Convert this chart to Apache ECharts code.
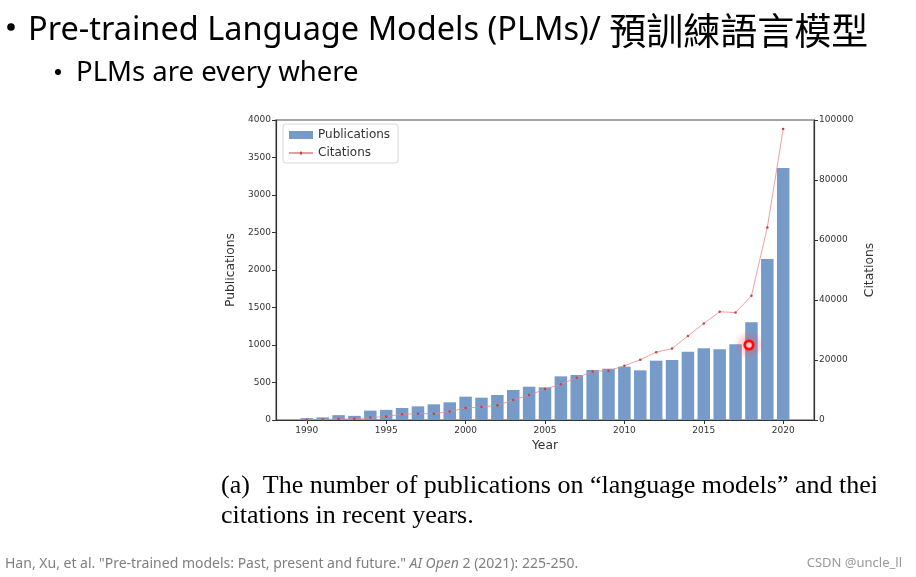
<!DOCTYPE html>
<html>
<head>
<meta charset="utf-8">
<script src="https://cdn.jsdelivr.net/npm/echarts@6/dist/echarts.min.js"></script>
<style>
  html, body { margin: 0; padding: 0; background: #fff; }
  #main { width: 916px; height: 577px; }
</style>
</head>
<body>
<div id="main"></div>
<script>
// data
const years = [1990, 1991, 1992, 1993, 1994, 1995, 1996, 1997, 1998, 1999,
  2000, 2001, 2002, 2003, 2004, 2005, 2006, 2007, 2008, 2009,
  2010, 2011, 2012, 2013, 2014, 2015, 2016, 2017, 2018, 2019, 2020];
const publications = [25, 35, 65, 55, 125, 135, 160, 182, 209, 236,
  311, 298, 333, 400, 444, 436, 582, 600, 667, 684,
  711, 662, 791, 800, 911, 956, 942, 1009, 1302, 2147, 3360];
const citations = [100, 200, 300, 400, 800, 1200, 1900, 2100, 2100, 2800,
  4000, 4300, 4900, 6700, 8300, 10300, 11900, 14100, 16200, 16400,
  18100, 20100, 22600, 23800, 28000, 32200, 36100, 35800, 41400, 64200, 97000];
const yearTicks = [1990, 1995, 2000, 2005, 2010, 2015, 2020];

const chart = echarts.init(document.getElementById('main'));

// plain numbers, no thousands separator (matplotlib style)
const axisFont = {
  fontFamily: 'DejaVu Sans', fontSize: 9, color: '#333',
  formatter: v => String(v)
};
const nameFont = { fontFamily: 'DejaVu Sans', fontSize: 12.3, color: '#333' };

const option = {
  backgroundColor: '#fff',
  animation: false,
  grid: {
    left: 276, top: 120, width: 538, height: 300,
    show: true, borderColor: '#888', borderWidth: 1.5
  },
  legend: {
    orient: 'vertical',
    left: 283, top: 124,
    padding: [5, 8, 4, 6],
    itemGap: 6,
    itemWidth: 24, itemHeight: 8,
    borderColor: '#d8d8d8', borderWidth: 1, borderRadius: 3,
    backgroundColor: '#fff',
    textStyle: { fontFamily: 'DejaVu Sans', fontSize: 12, color: '#333' },
    data: [
      { name: 'Publications', icon: 'rect' },
      { name: 'Citations',
        icon: 'path://M0,3.6H10.8A1.2,1.2 0 1 1 13.2,3.6H24V4.4H13.2A1.2,1.2 0 1 1 10.8,4.4H0Z' }
    ]
  },
  xAxis: {
    type: 'value',
    min: 1988.06, max: 2021.94,
    name: 'Year', nameLocation: 'middle', nameGap: 16,
    nameTextStyle: nameFont,
    axisLine: { lineStyle: { color: '#333', width: 1.2 } },
    axisTick: { show: true, length: 4, lineStyle: { color: '#333' }, customValues: yearTicks },
    axisLabel: Object.assign({ customValues: yearTicks, margin: 6 }, axisFont),
    splitLine: { show: false }
  },
  yAxis: [
    {
      type: 'value', min: 0, max: 4000, interval: 500,
      name: 'Publications', nameLocation: 'middle', nameGap: 24, nameRotate: 90,
      nameTextStyle: nameFont,
      axisLine: { show: true, lineStyle: { color: '#333', width: 1.2 } },
      axisTick: { show: true, length: 4, lineStyle: { color: '#333' } },
      axisLabel: Object.assign({ margin: 5 }, axisFont),
      splitLine: { show: false }
    },
    {
      type: 'value', min: 0, max: 100000, interval: 20000, position: 'right',
      name: 'Citations', nameLocation: 'middle', nameGap: 36, nameRotate: 90,
      nameTextStyle: nameFont,
      axisLine: { show: true, lineStyle: { color: '#333', width: 1.2 } },
      axisTick: { show: true, length: 4, lineStyle: { color: '#333' } },
      axisLabel: Object.assign({ margin: 5 }, axisFont),
      splitLine: { show: false }
    }
  ],
  series: [
    {
      name: 'Publications',
      type: 'bar',
      yAxisIndex: 0,
      barWidth: 12.5,
      itemStyle: { color: '#769bc9' },
      data: years.map((y, i) => [y, publications[i]])
    },
    {
      name: 'Citations',
      type: 'line',
      yAxisIndex: 1,
      symbol: 'circle', symbolSize: 2.5,
      lineStyle: { color: '#e58a8a', width: 0.8 },
      itemStyle: { color: '#c84040' },
      data: years.map((y, i) => [y, citations[i]])
    }
  ],
  graphic: [
    { type: 'circle', shape: { cx: 11, cy: 27, r: 3.8 }, style: { fill: '#000' } },
    { type: 'text', left: 28, top: 12,
      style: {
        text: '{l|Pre-trained Language Models (PLMs)/ }{c|預訓練語言模型}',
        rich: {
          l: { font: '32.5px "Noto Sans"', fill: '#000', color: '#000' },
          c: { font: '37px "Noto Sans CJK TC"', fill: '#000', color: '#000' }
        }
      } },
    { type: 'circle', shape: { cx: 58, cy: 72, r: 3 }, style: { fill: '#000' } },
    { type: 'text', left: 76, top: 59,
      style: { text: 'PLMs are every where', font: '27.5px "Noto Sans"', fill: '#000' } },
    { type: 'text', left: 221, top: 473,
      style: { text: '(a)  The number of publications on \u201clanguage models\u201d and their',
        font: '26px "Liberation Serif"', fill: '#000' } },
    { type: 'rect', shape: { x: 876, y: 468, width: 40, height: 30 }, style: { fill: '#fff' } },
    { type: 'text', left: 221, top: 503,
      style: { text: 'citations in recent years.', font: '26px "Liberation Serif"', fill: '#000' } },
    { type: 'text', left: 5, top: 557,
      style: {
        text: '{n|Han, Xu, et al. "Pre-trained models: Past, present and future." }{i|AI Open}{n| 2 (2021): 225-250.}',
        rich: {
          n: { font: '14px "Noto Sans"', fill: '#7f7f7f', color: '#7f7f7f' },
          i: { font: 'italic 14px "Noto Sans"', fill: '#7f7f7f', color: '#7f7f7f' }
        }
      } },
    { type: 'text', right: 14, top: 557,
      style: { text: 'CSDN @uncle_ll', font: '13px "Noto Sans"', fill: '#999' } },
    // presenter's pointer highlight
    { type: 'circle', z: 100, shape: { cx: 749, cy: 345, r: 15 },
      style: { fill: new echarts.graphic.RadialGradient(0.5, 0.5, 0.5, [
        { offset: 0, color: 'rgba(255,40,40,0.55)' },
        { offset: 0.5, color: 'rgba(255,80,80,0.25)' },
        { offset: 1, color: 'rgba(255,80,80,0)' }]) } },
    { type: 'circle', z: 101, shape: { cx: 749, cy: 345, r: 4.2 },
      style: { fill: '#ffc8c8', stroke: '#ff0a0a', lineWidth: 2.8 } }
  ]
};

chart.setOption(option);
</script>
</body>
</html>
